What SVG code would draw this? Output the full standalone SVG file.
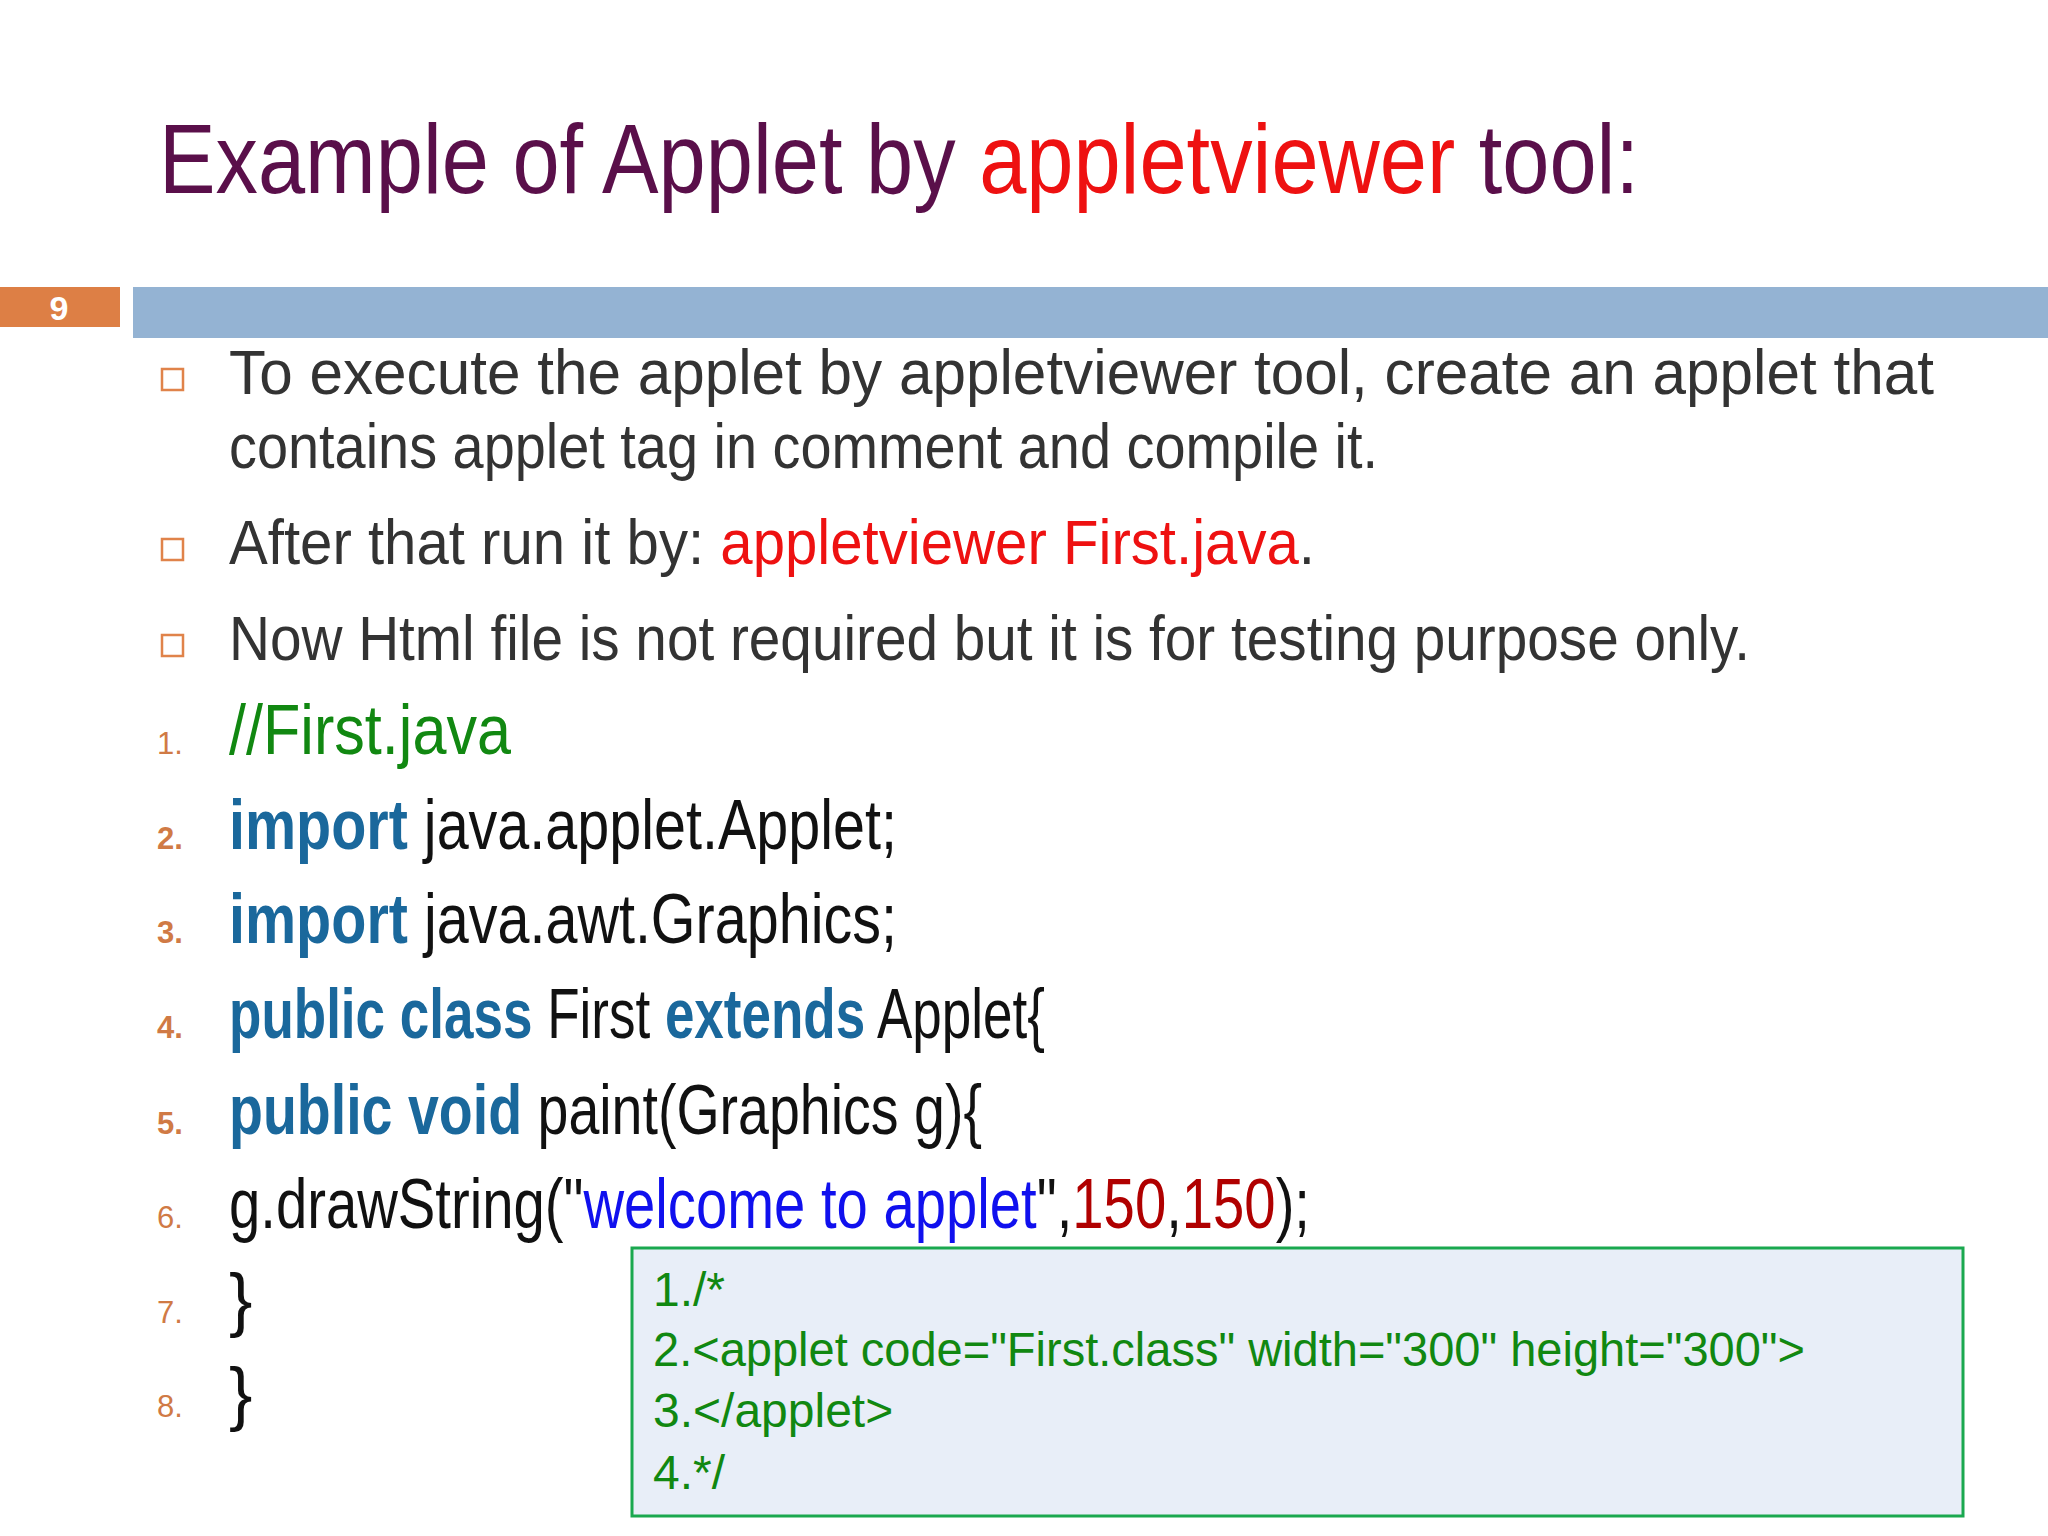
<svg xmlns="http://www.w3.org/2000/svg" width="2048" height="1536" viewBox="0 0 2048 1536">
<style>
text{font-family:"Liberation Sans",Arial,sans-serif}
.t{font-size:63px;fill:#333}
.c{font-size:70px;fill:#111}
.n{font-size:31px;fill:#d07a45}
.nb{font-size:31px;fill:#d07a45;font-weight:bold}
.k{fill:#1a689c;font-weight:bold}
.g{font-size:48px;fill:#118811}
.bul{fill:none;stroke:#e0834a;stroke-width:2.5}
</style>
<rect width="2048" height="1536" fill="#fff"/>
<g id="title"><text x="159" y="193" font-size="98" fill="#5a0f4a" textLength="1480" lengthAdjust="spacingAndGlyphs">Example of Applet by <tspan fill="#ee1111">appletviewer</tspan> tool:</text></g>
<g id="header">
<rect x="0" y="287" width="120" height="40" fill="#dd7f45"/>
<text x="59" y="320" font-size="34" font-weight="bold" fill="#fff" text-anchor="middle">9</text>
<rect x="133" y="287" width="1915" height="51" fill="#94b3d3"/>
</g>
<g id="bullets">
<rect class="bul" x="162" y="369" width="21" height="21"/>
<rect class="bul" x="162" y="539" width="21" height="21"/>
<rect class="bul" x="162" y="635" width="21" height="21"/>
<text class="t" x="229" y="394" textLength="1705" lengthAdjust="spacingAndGlyphs">To execute the applet by appletviewer tool, create an applet that</text>
<text class="t" x="229" y="468" textLength="1149" lengthAdjust="spacingAndGlyphs">contains applet tag in comment and compile it.</text>
<text class="t" x="229" y="564" textLength="1086" lengthAdjust="spacingAndGlyphs">After that run it by: <tspan fill="#ee1111">appletviewer First.java</tspan>.</text>
<text class="t" x="229" y="660" textLength="1521" lengthAdjust="spacingAndGlyphs">Now Html file is not required but it is for testing purpose only.</text>
</g>
<g id="code">
<text class="n" x="157" y="754">1.</text>
<text class="nb" x="157" y="849">2.</text>
<text class="nb" x="157" y="943">3.</text>
<text class="nb" x="157" y="1038">4.</text>
<text class="nb" x="157" y="1134">5.</text>
<text class="n" x="157" y="1228">6.</text>
<text class="n" x="157" y="1323">7.</text>
<text class="n" x="157" y="1417">8.</text>
<text class="c" x="229" y="754" style="fill:#118811" textLength="282" lengthAdjust="spacingAndGlyphs">//First.java</text>
<text class="c" x="229" y="849" textLength="668" lengthAdjust="spacingAndGlyphs"><tspan class="k">import</tspan> java.applet.Applet;</text>
<text class="c" x="229" y="943" textLength="668" lengthAdjust="spacingAndGlyphs"><tspan class="k">import</tspan> java.awt.Graphics;</text>
<text class="c" x="229" y="1038" textLength="816" lengthAdjust="spacingAndGlyphs"><tspan class="k">public class</tspan> First <tspan class="k">extends</tspan> Applet{</text>
<text class="c" x="229" y="1134" textLength="753" lengthAdjust="spacingAndGlyphs"><tspan class="k">public void</tspan> paint(Graphics g){</text>
<text class="c" x="229" y="1228" textLength="1081" lengthAdjust="spacingAndGlyphs">g.drawString("<tspan fill="#1010ee">welcome to applet</tspan>",<tspan fill="#b00000">150</tspan>,<tspan fill="#b00000">150</tspan>);</text>
<text class="c" x="229" y="1323">}</text>
<text class="c" x="229" y="1417">}</text>
</g>
<g id="applet-box">
<rect x="632" y="1248" width="1331" height="268" fill="#e8eef8" stroke="#1aa84f" stroke-width="3"/>
<text class="g" x="653" y="1306">1./*</text>
<text class="g" x="653" y="1366" textLength="1152" lengthAdjust="spacingAndGlyphs">2.&lt;applet  code="First.class"  width="300"  height="300"&gt;</text>
<text class="g" x="653" y="1427">3.&lt;/applet&gt;</text>
<text class="g" x="653" y="1489">4.*/</text>
</g>
</svg>
